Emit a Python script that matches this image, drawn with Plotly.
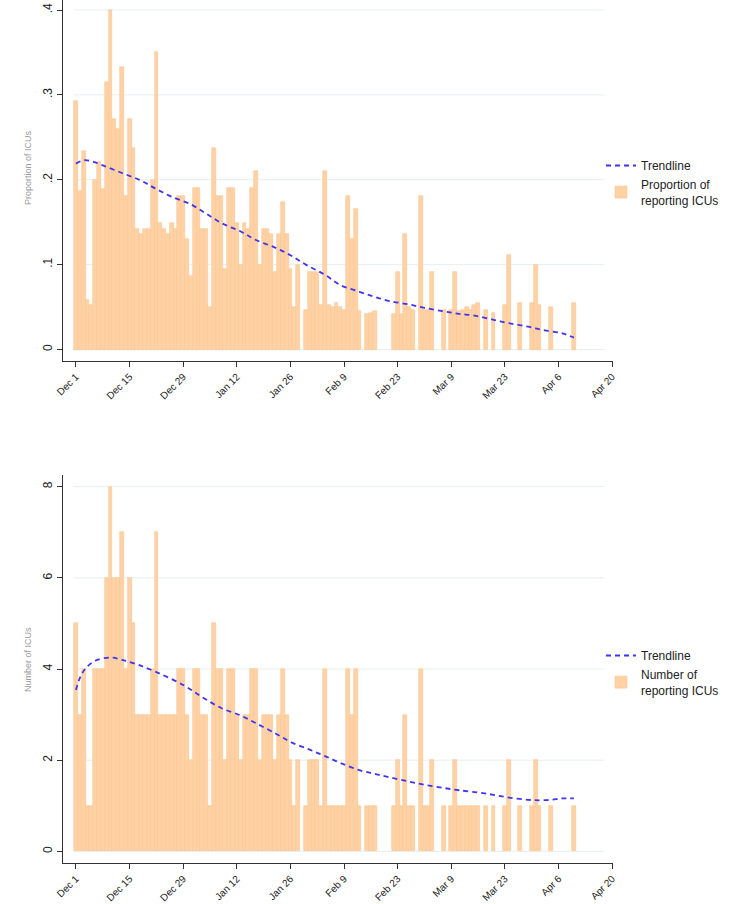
import plotly.graph_objects as go

# ---------------- data ----------------
tick_days = [0, 14, 28, 42, 56, 70, 84, 98, 112, 126, 140]
tick_labels = ["Dec 1", "Dec 15", "Dec 29", "Jan 12", "Jan 26", "Feb 9",
               "Feb 23", "Mar 9", "Mar 23", "Apr 6", "Apr 20"]

# day index 0 = Dec 1; None = no report that day
proportion = [
    0.293, 0.187, 0.234, 0.058, 0.053, 0.200, 0.221, 0.189, 0.315, 0.400,
    0.272, 0.260, 0.333, 0.181, 0.272, 0.238, 0.142, 0.136, 0.142, 0.142,
    0.200, 0.350, 0.149, 0.142, 0.136, 0.149, 0.142, 0.181, 0.181, 0.130,
    0.087, 0.190, 0.190, 0.142, 0.142, 0.050, 0.238, 0.181, 0.181, 0.095,
    0.190, 0.190, 0.149, 0.100, 0.149, 0.142, 0.190, 0.210, 0.100, 0.142,
    0.142, 0.136, 0.091, 0.136, 0.174, 0.136, 0.095, 0.050, 0.100, None,
    0.047, 0.091, 0.091, 0.091, 0.053, 0.210, 0.053, 0.050, 0.055, 0.050,
    0.047, 0.181, 0.130, 0.166, 0.045, None, 0.042, 0.043, 0.045, None,
    None, None, None, 0.042, 0.091, 0.042, 0.136, 0.050, 0.047, None,
    0.181, 0.047, 0.047, 0.091, None, None, 0.047, None, 0.047, 0.091,
    0.045, 0.047, 0.050, 0.047, 0.053, 0.055, None, 0.047, None, 0.043,
    None, None, 0.053, 0.111, None, None, 0.055, None, None, 0.055,
    0.100, 0.053, None, None, 0.050, None, None, None, None, None,
    0.055,
]

counts = [
    5, 3, 4, 1, 1, 4, 4, 4, 6, 8,
    6, 6, 7, 4, 6, 5, 3, 3, 3, 3,
    4, 7, 3, 3, 3, 3, 3, 4, 4, 3,
    2, 4, 4, 3, 3, 1, 5, 4, 4, 2,
    4, 4, 3, 2, 3, 3, 4, 4, 2, 3,
    3, 3, 2, 3, 4, 3, 2, 1, 2, None,
    1, 2, 2, 2, 1, 4, 1, 1, 1, 1,
    1, 4, 3, 4, 1, None, 1, 1, 1, None,
    None, None, None, 1, 2, 1, 3, 1, 1, None,
    4, 1, 1, 2, None, None, 1, None, 1, 2,
    1, 1, 1, 1, 1, 1, None, 1, None, 1,
    None, None, 1, 2, None, None, 1, None, None, 1,
    2, 1, None, None, 1, None, None, None, None, None,
    1,
]
days = list(range(len(proportion)))

trend_prop_days = [0, 2, 4, 7, 12, 17, 21, 25, 30, 34, 38, 43, 47, 52, 56, 60,
                   65, 69, 74, 78, 82, 87, 91, 96, 100, 104, 109, 113, 118,
                   122, 127, 130]
trend_prop = [0.219, 0.223, 0.222, 0.217, 0.208, 0.199, 0.189, 0.180, 0.171,
              0.160, 0.149, 0.139, 0.129, 0.120, 0.111, 0.100, 0.088, 0.076,
              0.068, 0.062, 0.057, 0.053, 0.049, 0.045, 0.042, 0.040, 0.035,
              0.031, 0.027, 0.023, 0.019, 0.014]

trend_count_days = [0, 1, 2.5, 5, 9, 12, 16, 21, 28, 33, 38, 43, 47, 52, 56,
                    61, 65, 69, 74, 78, 82, 87, 91, 96, 100, 105, 109, 113,
                    118, 121, 124, 127, 130]
trend_count = [3.54, 3.80, 4.01, 4.18, 4.25, 4.20, 4.10, 3.93, 3.65, 3.38,
               3.14, 2.98, 2.81, 2.59, 2.40, 2.23, 2.09, 1.94, 1.78, 1.70,
               1.62, 1.53, 1.46, 1.39, 1.34, 1.29, 1.24, 1.18, 1.13, 1.12,
               1.13, 1.16, 1.16]

prop_ticks = [0, 0.1, 0.2, 0.3, 0.4]
prop_ticktext = ["0", ".1", ".2", ".3", ".4"]
count_ticks = [0, 2, 4, 6, 8]

# ---------------- styling ----------------
FONT = "Liberation Sans, Arial, sans-serif"
BAR_FILL = "#ffd2a5"
BAR_LINE = "#fbc693"
TREND = "#4035ee"
GRID = "#e6eff1"
AXIS = "#333333"

W, H = 731, 904
ML, MR, MT, MB = 63, 118, 0, 41
plot_h = H - MT - MB

def ydom(top_px, bot_px):
    return [(H - MB - bot_px) / plot_h, (H - MB - top_px) / plot_h]

fig = go.Figure()

fig.add_trace(go.Bar(x=days, y=proportion, width=1.0, marker=dict(color=BAR_FILL, line=dict(color=BAR_LINE, width=0.6)),
                     name="Proportion of<br>reporting ICUs", xaxis="x", yaxis="y", legend="legend", legendrank=2))
fig.add_trace(go.Scatter(x=trend_prop_days, y=trend_prop, mode="lines", line=dict(color=TREND, width=1.8, dash="5px,4px", shape="spline"),
                         name="Trendline", xaxis="x", yaxis="y", legend="legend", legendrank=1))
fig.add_trace(go.Bar(x=days, y=counts, width=1.0, marker=dict(color=BAR_FILL, line=dict(color=BAR_LINE, width=0.6)),
                     name="Number of<br>reporting ICUs", xaxis="x2", yaxis="y2", legend="legend2", legendrank=2))
fig.add_trace(go.Scatter(x=trend_count_days, y=trend_count, mode="lines", line=dict(color=TREND, width=1.8, dash="5px,4px", shape="spline"),
                         name="Trendline", xaxis="x2", yaxis="y2", legend="legend2", legendrank=1))

xrange = [-3.39, 140.2]
common_x = dict(range=xrange, tickmode="array", tickvals=tick_days, ticktext=tick_labels,
                tickangle=-45, ticks="outside", ticklen=5, tickcolor=AXIS, showline=True,
                linecolor=AXIS, linewidth=1, showgrid=False, zeroline=False, automargin=False,
                tickfont=dict(family=FONT, size=10, color="#222"))
common_y = dict(tickmode="array", ticks="outside", ticklen=5, tickcolor=AXIS, showline=True,
                linecolor=AXIS, linewidth=1, showgrid=False, zeroline=False, tickangle=-90,
                automargin=False, tickfont=dict(family=FONT, size=12, color="#222"))

top_px0, top_px1 = 0, 361
bot_px0, bot_px1 = 475, 863
fig.update_layout(
    width=W, height=H, margin=dict(l=ML, r=MR, t=MT, b=MB, autoexpand=False),
    paper_bgcolor="white", plot_bgcolor="white", barmode="overlay", bargap=0,
    font=dict(family=FONT),
    xaxis=dict(common_x, domain=[0, 1], anchor="y"),
    yaxis=dict(common_y, domain=ydom(top_px0, top_px1), range=[-0.01355, 0.4118],
               tickvals=prop_ticks, ticktext=prop_ticktext, anchor="x"),
    xaxis2=dict(common_x, domain=[0, 1], anchor="y2"),
    yaxis2=dict(common_y, domain=ydom(bot_px0, bot_px1), range=[-0.256, 8.256],
                tickvals=count_ticks, ticktext=[str(v) for v in count_ticks], anchor="x2"),
    legend=dict(x=(601 - ML) / (W - ML - MR), y=(H - MB - 151) / plot_h, xanchor="left", yanchor="top",
                font=dict(family=FONT, size=12, color="#222"), bgcolor="rgba(0,0,0,0)", itemwidth=30,
                tracegroupgap=2),
    legend2=dict(x=(601 - ML) / (W - ML - MR), y=(H - MB - 641) / plot_h, xanchor="left", yanchor="top",
                 font=dict(family=FONT, size=12, color="#222"), bgcolor="rgba(0,0,0,0)", itemwidth=30,
                 tracegroupgap=2),
    showlegend=True,
)

shapes = []
for v in prop_ticks:
    shapes.append(dict(type="line", xref="x", yref="y", x0=-0.6, x1=138.0, y0=v, y1=v,
                       line=dict(color=GRID, width=1), layer="below"))
for v in count_ticks:
    shapes.append(dict(type="line", xref="x2", yref="y2", x0=-0.6, x1=138.0, y0=v, y1=v,
                       line=dict(color=GRID, width=1), layer="below"))
fig.update_layout(shapes=shapes)

fig.add_annotation(text="Proportion of ICUs", xref="paper", yref="paper",
                   x=(28 - ML) / (W - ML - MR), y=(H - MB - 168) / plot_h, textangle=-90,
                   showarrow=False, font=dict(family=FONT, size=9, color="#9a9a9a"),
                   xanchor="center", yanchor="middle")
fig.add_annotation(text="Number of ICUs", xref="paper", yref="paper",
                   x=(28 - ML) / (W - ML - MR), y=(H - MB - 660) / plot_h, textangle=-90,
                   showarrow=False, font=dict(family=FONT, size=9, color="#9a9a9a"),
                   xanchor="center", yanchor="middle")

fig.write_html("out.html", config={"displayModeBar": False})

# remove the browser's default page margin so the figure fills the window exactly
with open("out.html", "r", encoding="utf-8") as f:
    html = f.read()
html = html.replace("<head>", "<head><style>html,body{margin:0;padding:0;overflow:hidden;}</style>", 1)
with open("out.html", "w", encoding="utf-8") as f:
    f.write(html)
